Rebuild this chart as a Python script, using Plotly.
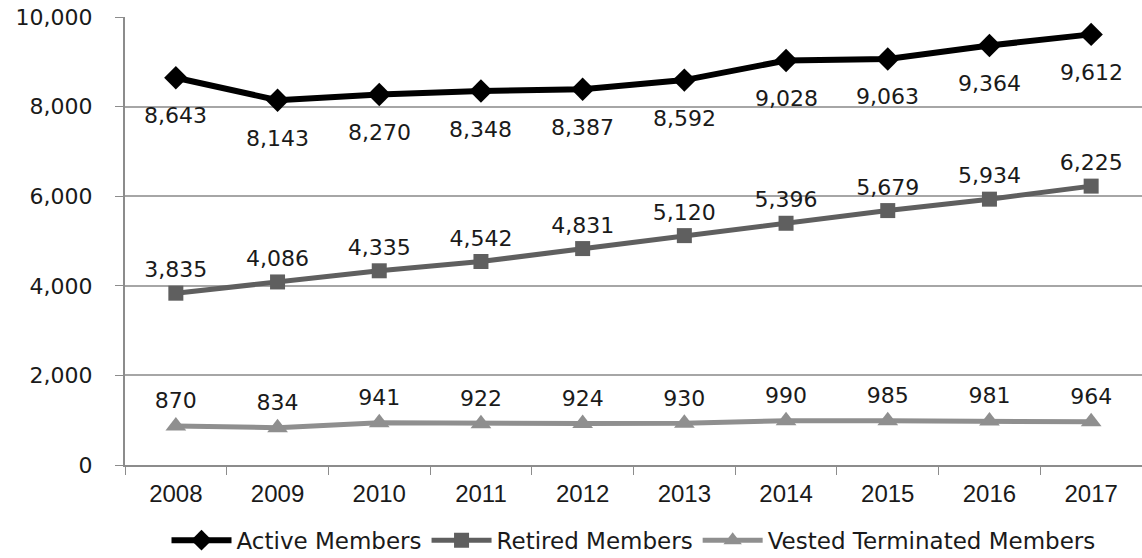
import plotly.graph_objects as go

years = ["2008", "2009", "2010", "2011", "2012", "2013", "2014", "2015", "2016", "2017"]
active = [8643, 8143, 8270, 8348, 8387, 8592, 9028, 9063, 9364, 9612]
retired = [3835, 4086, 4335, 4542, 4831, 5120, 5396, 5679, 5934, 6225]
vested = [870, 834, 941, 922, 924, 930, 990, 985, 981, 964]

label_font = dict(family="DejaVu Sans", size=22, color="#1a1a1a")

fig = go.Figure()

fig.add_trace(go.Scatter(
    x=years, y=active, name="Active Members",
    mode="lines+markers",
    line=dict(color="#000000", width=6),
    marker=dict(symbol="diamond", size=18, color="#000000"),
))

# active labels sit well below the markers, like the original
for i, v in enumerate(active):
    fig.add_annotation(x=i, y=v, xref="x", yref="y", text=f"{v:,}",
                       showarrow=False, yshift=-38, font=label_font)

fig.add_trace(go.Scatter(
    x=years, y=retired, name="Retired Members",
    mode="lines+markers+text",
    line=dict(color="#5f5f5f", width=5),
    marker=dict(symbol="square", size=15, color="#5f5f5f"),
    text=[f"{v:,}" for v in retired], textposition="top center",
    textfont=label_font,
))

fig.add_trace(go.Scatter(
    x=years, y=vested, name="Vested Terminated Members",
    mode="lines+markers+text",
    line=dict(color="#8f8f8f", width=5),
    marker=dict(symbol="triangle-up", size=18, color="#8f8f8f"),
    text=[f"{v:,}" for v in vested], textposition="top center",
    textfont=label_font,
))

fig.update_layout(
    width=1142, height=558,
    margin=dict(l=125, r=0, t=17, b=93, autoexpand=False),
    plot_bgcolor="white", paper_bgcolor="white",
    font=dict(family="DejaVu Sans", size=20, color="#1a1a1a"),
    showlegend=True,
    legend=dict(orientation="h", x=0.5, xanchor="center", y=-0.168, yanchor="middle",
                font=dict(size=23), tracegroupgap=0, itemwidth=60),
    xaxis=dict(
        type="category", showgrid=False, showline=True, linecolor="#8c8c8c", linewidth=2,
        ticks="outside", ticklen=8, tickcolor="#8c8c8c", tickson="boundaries",
        tickfont=dict(family="Liberation Sans", size=24), range=[-0.5, 9.5],
        ticklabelstandoff=6,
    ),
    yaxis=dict(
        range=[0, 10000], dtick=2000, tickformat=",", showgrid=True, gridcolor="#a6a6a6",
        gridwidth=2, showline=True, linecolor="#8c8c8c", linewidth=2,
        ticks="outside", ticklen=8, tickcolor="#8c8c8c", zeroline=False,
        tickfont=dict(size=22), ticklabelstandoff=18,
    ),
)

# the page body has a default margin; drop it so the chart fills the window
fig.write_html("out.html", config={"displayModeBar": False},
               post_script="document.body.style.margin='0';")
